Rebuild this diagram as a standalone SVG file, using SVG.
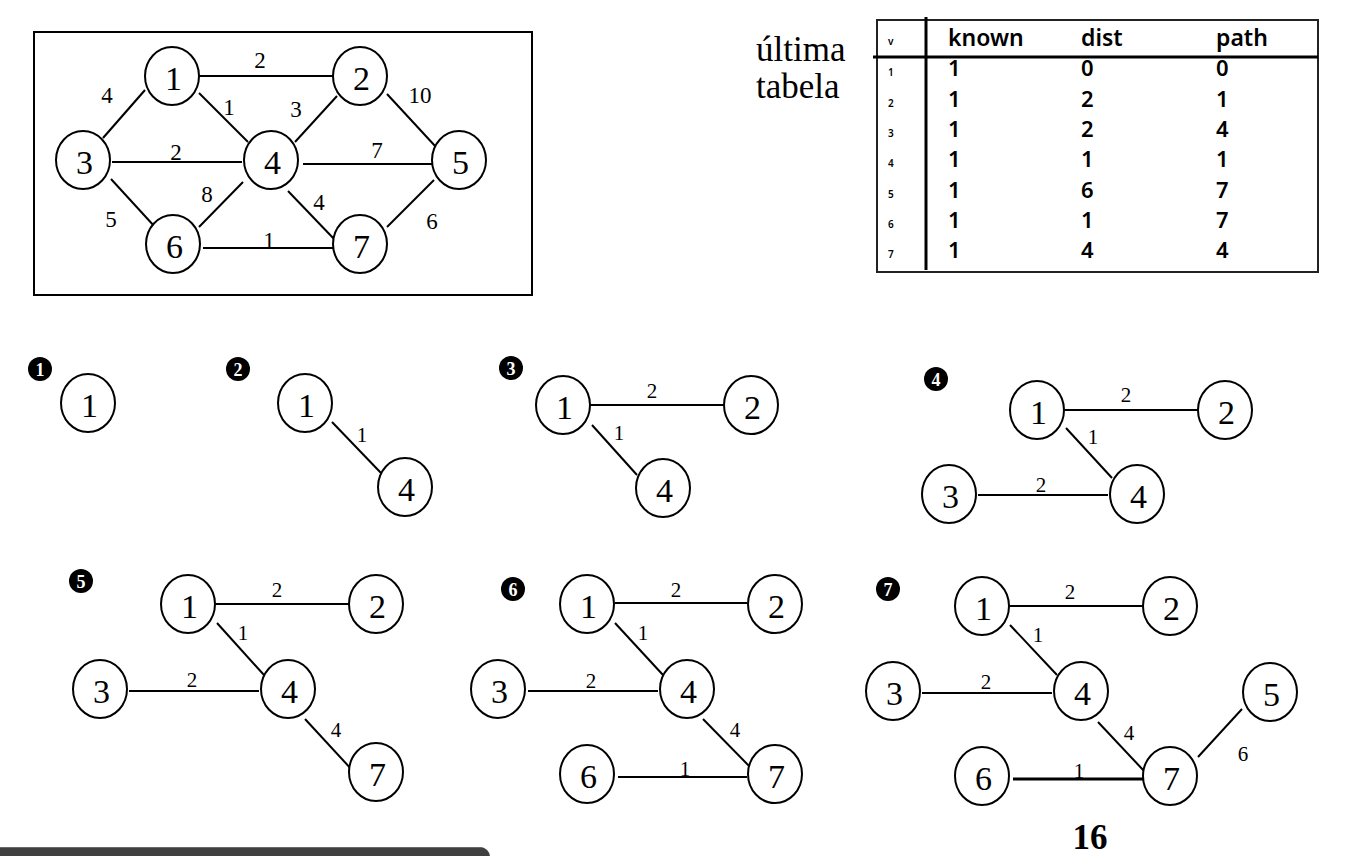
<svg xmlns="http://www.w3.org/2000/svg" width="1362" height="856" viewBox="0 0 1362 856">
<style>
.nd{fill:#fff;stroke:#000;stroke-width:2}
.nt{font-family:"Liberation Serif",serif;font-size:34px;text-anchor:middle;fill:#000}
.e{stroke:#000;stroke-width:2;fill:none}
.el{font-family:"Liberation Serif",serif;font-size:21px;text-anchor:middle;fill:#000}
.elt{font-family:"Liberation Serif",serif;font-size:23px;text-anchor:middle;fill:#000}
.mk{fill:#000}
.mt{font-family:"Liberation Serif",serif;font-size:18px;font-weight:bold;text-anchor:middle;fill:#fff}
.tb{font-family:"Noto Sans","DejaVu Sans",sans-serif;font-weight:600;fill:#000}
.th{font-size:23px}
.td{font-size:22px}
.ts{font-size:10px}
.cap{font-family:"Liberation Serif",serif;font-size:35px;fill:#000}
</style>
<rect width="1362" height="856" fill="#fff"/>

<!-- Top full graph -->
<rect x="34" y="32" width="498" height="263" fill="none" stroke="#000" stroke-width="2"/>
<g id="g0-edges">
<line class="e" x1="198" y1="76" x2="333" y2="76"/>
<line class="e" x1="103" y1="138" x2="145" y2="90"/>
<line class="e" x1="199" y1="93" x2="248" y2="142"/>
<line class="e" x1="337" y1="96" x2="295" y2="142"/>
<line class="e" x1="387" y1="94" x2="436" y2="147"/>
<line class="e" x1="112" y1="162" x2="242" y2="162"/>
<line class="e" x1="303" y1="164" x2="436" y2="164"/>
<line class="e" x1="111" y1="179" x2="155" y2="227"/>
<line class="e" x1="243" y1="182" x2="199" y2="227"/>
<line class="e" x1="288" y1="191" x2="335" y2="240"/>
<line class="e" x1="203" y1="248" x2="335" y2="248"/>
<line class="e" x1="434" y1="180" x2="387" y2="227"/>
<text class="elt" x="260" y="68">2</text>
<text class="elt" x="107" y="103">4</text>
<text class="elt" x="229" y="115">1</text>
<text class="elt" x="296" y="117">3</text>
<text class="elt" x="420" y="103">10</text>
<text class="elt" x="176" y="160">2</text>
<text class="elt" x="377" y="158">7</text>
<text class="elt" x="207" y="202">8</text>
<text class="elt" x="111" y="227">5</text>
<text class="elt" x="319" y="210">4</text>
<text class="elt" x="269" y="248">1</text>
<text class="elt" x="432" y="229">6</text>
</g>
<g id="g0-n1"><ellipse class="nd" cx="172" cy="76" rx="27" ry="29"/><text class="nt" x="173.5" y="90">1</text></g>
<g id="g0-n2"><ellipse class="nd" cx="360" cy="76" rx="27" ry="29"/><text class="nt" x="361.5" y="90">2</text></g>
<g id="g0-n3"><ellipse class="nd" cx="83" cy="160" rx="27" ry="29"/><text class="nt" x="84.5" y="174">3</text></g>
<g id="g0-n4"><ellipse class="nd" cx="271" cy="160" rx="27" ry="29"/><text class="nt" x="272.5" y="174">4</text></g>
<g id="g0-n5"><ellipse class="nd" cx="459" cy="160" rx="27" ry="29"/><text class="nt" x="460.5" y="174">5</text></g>
<g id="g0-n6"><ellipse class="nd" cx="173" cy="244" rx="27" ry="29"/><text class="nt" x="174.5" y="258">6</text></g>
<g id="g0-n7"><ellipse class="nd" cx="360" cy="244" rx="27" ry="29"/><text class="nt" x="361.5" y="258">7</text></g>

<!-- Caption and table -->
<text class="cap" x="756" y="61">última</text>
<text class="cap" x="756" y="98">tabela</text>
<g id="table">
<rect x="877" y="20" width="441" height="252" fill="none" stroke="#222" stroke-width="2"/>
<line x1="873" y1="57" x2="1318" y2="57" stroke="#000" stroke-width="3"/>
<line x1="926" y1="17" x2="926" y2="270" stroke="#000" stroke-width="3"/>
<text class="tb ts" x="888" y="45">v</text>
<text class="tb th" x="948" y="46">known</text>
<text class="tb th" x="1081" y="46">dist</text>
<text class="tb th" x="1216" y="46">path</text>
<g class="tb ts">
<text x="888" y="76">1</text><text x="888" y="106.5">2</text><text x="888" y="137">3</text><text x="888" y="167">4</text><text x="888" y="197.5">5</text><text x="888" y="228">6</text><text x="888" y="258">7</text>
</g>
<g class="tb td">
<text x="948" y="76">1</text><text x="1081" y="76">0</text><text x="1216" y="76">0</text>
<text x="948" y="106.5">1</text><text x="1081" y="106.5">2</text><text x="1216" y="106.5">1</text>
<text x="948" y="137">1</text><text x="1081" y="137">2</text><text x="1216" y="137">4</text>
<text x="948" y="167">1</text><text x="1081" y="167">1</text><text x="1216" y="167">1</text>
<text x="948" y="197.5">1</text><text x="1081" y="197.5">6</text><text x="1216" y="197.5">7</text>
<text x="948" y="228">1</text><text x="1081" y="228">1</text><text x="1216" y="228">7</text>
<text x="948" y="258">1</text><text x="1081" y="258">4</text><text x="1216" y="258">4</text>
</g>
</g>

<!-- Step markers -->
<g id="m1"><circle class="mk" cx="40" cy="369" r="12"/><text class="mt" x="40" y="375.5">1</text></g>
<g id="m2"><circle class="mk" cx="238" cy="369" r="12"/><text class="mt" x="238" y="375.5">2</text></g>
<g id="m3"><circle class="mk" cx="511" cy="368" r="12"/><text class="mt" x="511" y="374.5">3</text></g>
<g id="m4"><circle class="mk" cx="936" cy="379" r="12"/><text class="mt" x="936" y="385.5">4</text></g>
<g id="m5"><circle class="mk" cx="81" cy="581" r="12"/><text class="mt" x="81" y="587.5">5</text></g>
<g id="m6"><circle class="mk" cx="513" cy="589" r="12"/><text class="mt" x="513" y="595.5">6</text></g>
<g id="m7"><circle class="mk" cx="888" cy="589" r="12"/><text class="mt" x="888" y="595.5">7</text></g>

<!-- Step 1 -->
<g id="s1-n1"><ellipse class="nd" cx="88" cy="403" rx="27" ry="29"/><text class="nt" x="89.5" y="417">1</text></g>

<!-- Step 2 -->
<g id="s2-edges">
<line class="e" x1="332" y1="422" x2="381" y2="473"/>
<text class="el" x="362" y="442">1</text>
</g>
<g id="s2-n1"><ellipse class="nd" cx="305" cy="403" rx="27" ry="29"/><text class="nt" x="306.5" y="417">1</text></g>
<g id="s2-n4"><ellipse class="nd" cx="405" cy="487" rx="27" ry="29"/><text class="nt" x="406.5" y="501">4</text></g>

<!-- Step 3 -->
<g id="s3-edges">
<line class="e" x1="590" y1="405" x2="725" y2="405"/>
<line class="e" x1="592" y1="425" x2="637" y2="475"/>
<text class="el" x="652" y="398">2</text>
<text class="el" x="619" y="440">1</text>
</g>
<g id="s3-n1"><ellipse class="nd" cx="563" cy="405" rx="27" ry="29"/><text class="nt" x="564.5" y="419">1</text></g>
<g id="s3-n2"><ellipse class="nd" cx="751" cy="405" rx="27" ry="29"/><text class="nt" x="752.5" y="419">2</text></g>
<g id="s3-n4"><ellipse class="nd" cx="663" cy="488" rx="27" ry="29"/><text class="nt" x="664.5" y="502">4</text></g>

<!-- Step 4 -->
<g id="s4-edges">
<line class="e" x1="1065" y1="410" x2="1198" y2="410"/>
<line class="e" x1="1066" y1="428" x2="1112" y2="478"/>
<line class="e" x1="978" y1="495" x2="1108" y2="495"/>
<text class="el" x="1126" y="402">2</text>
<text class="el" x="1093" y="444">1</text>
<text class="el" x="1041" y="492">2</text>
</g>
<g id="s4-n1"><ellipse class="nd" cx="1037" cy="410" rx="27" ry="29"/><text class="nt" x="1038.5" y="424">1</text></g>
<g id="s4-n2"><ellipse class="nd" cx="1225" cy="410" rx="27" ry="29"/><text class="nt" x="1226.5" y="424">2</text></g>
<g id="s4-n3"><ellipse class="nd" cx="949" cy="494" rx="27" ry="29"/><text class="nt" x="950.5" y="508">3</text></g>
<g id="s4-n4"><ellipse class="nd" cx="1137" cy="494" rx="27" ry="29"/><text class="nt" x="1138.5" y="508">4</text></g>

<!-- Step 5 -->
<g id="s5-edges">
<line class="e" x1="216" y1="604" x2="349" y2="604"/>
<line class="e" x1="217" y1="623" x2="264" y2="675"/>
<line class="e" x1="129" y1="691" x2="259" y2="691"/>
<line class="e" x1="305" y1="719" x2="353" y2="771"/>
<text class="el" x="277" y="597">2</text>
<text class="el" x="243" y="640">1</text>
<text class="el" x="192" y="687">2</text>
<text class="el" x="336" y="737">4</text>
</g>
<g id="s5-n1"><ellipse class="nd" cx="188" cy="604" rx="27" ry="29"/><text class="nt" x="189.5" y="618">1</text></g>
<g id="s5-n2"><ellipse class="nd" cx="376" cy="604" rx="27" ry="29"/><text class="nt" x="377.5" y="618">2</text></g>
<g id="s5-n3"><ellipse class="nd" cx="100" cy="689" rx="27" ry="29"/><text class="nt" x="101.5" y="703">3</text></g>
<g id="s5-n4"><ellipse class="nd" cx="288" cy="689" rx="27" ry="29"/><text class="nt" x="289.5" y="703">4</text></g>
<g id="s5-n7"><ellipse class="nd" cx="376" cy="772" rx="27" ry="29"/><text class="nt" x="377.5" y="786">7</text></g>

<!-- Step 6 -->
<g id="s6-edges">
<line class="e" x1="615" y1="603" x2="747" y2="603"/>
<line class="e" x1="615" y1="623" x2="663" y2="675"/>
<line class="e" x1="528" y1="691" x2="658" y2="691"/>
<line class="e" x1="703" y1="719" x2="752" y2="769"/>
<line class="e" x1="618" y1="777" x2="747" y2="777"/>
<text class="el" x="676" y="597">2</text>
<text class="el" x="643" y="640">1</text>
<text class="el" x="591" y="688">2</text>
<text class="el" x="735" y="737">4</text>
<text class="el" x="685" y="776">1</text>
</g>
<g id="s6-n1"><ellipse class="nd" cx="587" cy="604" rx="27" ry="29"/><text class="nt" x="588.5" y="618">1</text></g>
<g id="s6-n2"><ellipse class="nd" cx="775" cy="604" rx="27" ry="29"/><text class="nt" x="776.5" y="618">2</text></g>
<g id="s6-n3"><ellipse class="nd" cx="498" cy="689" rx="27" ry="29"/><text class="nt" x="499.5" y="703">3</text></g>
<g id="s6-n4"><ellipse class="nd" cx="687" cy="689" rx="27" ry="29"/><text class="nt" x="688.5" y="703">4</text></g>
<g id="s6-n6"><ellipse class="nd" cx="587" cy="774" rx="27" ry="29"/><text class="nt" x="588.5" y="788">6</text></g>
<g id="s6-n7"><ellipse class="nd" cx="775" cy="774" rx="27" ry="29"/><text class="nt" x="776.5" y="788">7</text></g>

<!-- Step 7 -->
<g id="s7-edges">
<line class="e" x1="1009" y1="606" x2="1143" y2="606"/>
<line class="e" x1="1010" y1="625" x2="1057" y2="675"/>
<line class="e" x1="922" y1="693" x2="1052" y2="693"/>
<line class="e" x1="1098" y1="722" x2="1145" y2="772"/>
<line class="e" x1="1013" y1="779" x2="1143" y2="779" style="stroke-width:3"/>
<line class="e" x1="1198" y1="757" x2="1242" y2="709"/>
<text class="el" x="1070" y="599">2</text>
<text class="el" x="1038" y="642">1</text>
<text class="el" x="986" y="689">2</text>
<text class="el" x="1129" y="740">4</text>
<text class="el" x="1079" y="778">1</text>
<text class="el" x="1243" y="761">6</text>
</g>
<g id="s7-n1"><ellipse class="nd" cx="982" cy="606" rx="27" ry="29"/><text class="nt" x="983.5" y="620">1</text></g>
<g id="s7-n2"><ellipse class="nd" cx="1170" cy="606" rx="27" ry="29"/><text class="nt" x="1171.5" y="620">2</text></g>
<g id="s7-n3"><ellipse class="nd" cx="893" cy="691" rx="27" ry="29"/><text class="nt" x="894.5" y="705">3</text></g>
<g id="s7-n4"><ellipse class="nd" cx="1081" cy="691" rx="27" ry="29"/><text class="nt" x="1082.5" y="705">4</text></g>
<g id="s7-n5"><ellipse class="nd" cx="1270" cy="692" rx="27" ry="29"/><text class="nt" x="1271.5" y="706">5</text></g>
<g id="s7-n6"><ellipse class="nd" cx="982" cy="776" rx="27" ry="29"/><text class="nt" x="983.5" y="790">6</text></g>
<g id="s7-n7"><ellipse class="nd" cx="1170" cy="776" rx="27" ry="29"/><text class="nt" x="1171.5" y="790">7</text></g>

<text x="1090" y="849" font-family="Liberation Serif, serif" font-size="35" font-weight="bold" text-anchor="middle" fill="#000">16</text>

<rect x="-20" y="847" width="510" height="30" rx="10" fill="#404040"/>
<line x1="0" y1="847.5" x2="482" y2="847.5" stroke="#6a6a6a" stroke-width="1"/>
</svg>
